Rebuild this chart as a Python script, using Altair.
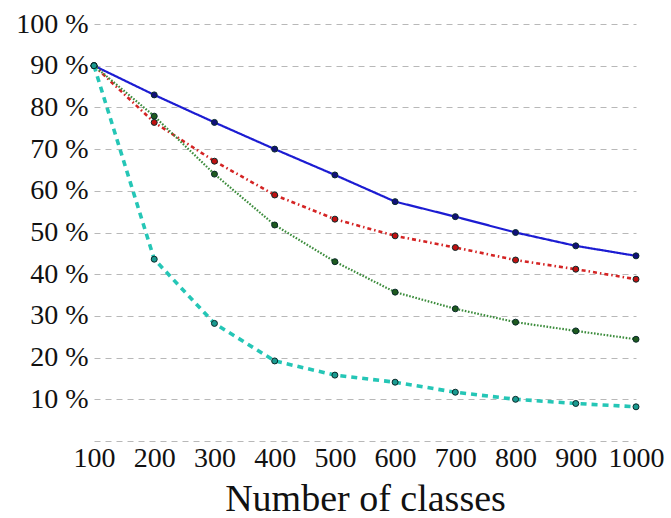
import altair as alt
import pandas as pd

# Number of classes on the x axis
classes = [100, 200, 300, 400, 500, 600, 700, 800, 900, 1000]

# Accuracy (%) of the four methods
series_a = [90.0, 83.0, 76.4, 70.0, 63.8, 57.4, 53.8, 50.0, 46.8, 44.4]
series_b = [90.0, 76.4, 67.1, 59.0, 53.2, 49.2, 46.4, 43.4, 41.2, 38.8]
series_c = [90.0, 77.9, 64.0, 51.8, 43.0, 35.7, 31.7, 28.5, 26.4, 24.4]
series_d = [90.0, 43.6, 28.2, 19.2, 15.8, 14.1, 11.7, 10.0, 9.0, 8.2]

y_ticks = [0, 10, 20, 30, 40, 50, 60, 70, 80, 90, 100]

FONT = "Liberation Serif"

styles = [
    # name, values, line colour, marker fill, dash, width
    ("A", series_a, "#1c1cd2", "#10107a", [1, 0], 2.2),
    ("B", series_b, "#d42424", "#c01010", [4, 3, 1.5, 3], 2.6),
    ("C", series_c, "#3c8c3c", "#1e5a1e", [1.6, 1.6], 2.2),
    ("D", series_d, "#25c6b6", "#1a9a90", [6, 5], 3.6),
]

x_scale = alt.Scale(domain=[100, 1000], nice=False, zero=False)
y_scale = alt.Scale(domain=[0, 100], nice=False)

x_axis = alt.Axis(
    title="Number of classes",
    values=classes,
    format="d",
    grid=False,
    domain=False,
    ticks=False,
    labelFont=FONT,
    labelFontSize=28,
    labelColor="#111111",
    labelPadding=3,
    labelFlush=False,
    labelOverlap=False,
    titleFont=FONT,
    titleFontSize=38,
    titleFontWeight="normal",
    titleColor="#111111",
    titlePadding=8,
)

y_axis = alt.Axis(
    title=None,
    values=y_ticks,
    labelExpr="datum.value == 0 ? '' : datum.value + ' %'",
    grid=True,
    gridColor="#b8b8b8",
    gridDash=[6, 5],
    gridWidth=1,
    domain=False,
    ticks=False,
    labelFont=FONT,
    labelFontSize=28,
    labelColor="#111111",
    labelPadding=6,
)

layers = []
for name, vals, line_col, fill_col, dash, width in styles:
    df = pd.DataFrame({"classes": classes, "acc": vals})
    base = alt.Chart(df).encode(
        x=alt.X("classes:Q", scale=x_scale, axis=x_axis),
        y=alt.Y("acc:Q", scale=y_scale, axis=y_axis),
    )
    line = base.mark_line(color=line_col, strokeWidth=width, strokeDash=dash)
    pts = base.mark_point(
        shape="circle", filled=True, size=36, fill=fill_col,
        stroke="#0a2a2a", strokeWidth=1, opacity=1,
    )
    layers += [line, pts]

chart = alt.layer(*layers).properties(
    width=542,
    height=417,
    autosize=alt.AutoSizeParams(type="none"),
    padding={"left": 94, "top": 24, "right": 35, "bottom": 77},
    background="white",
).configure_view(stroke=None)

chart.save("out.html", embed_options={"renderer": "svg", "actions": False})
